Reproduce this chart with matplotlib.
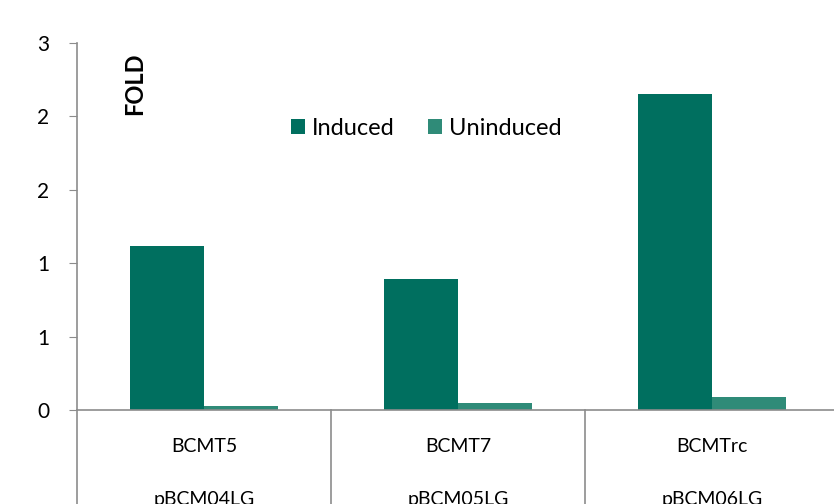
import numpy as np
from matplotlib import pyplot as plt
from matplotlib import transforms

# Fold change per construct
strains = ['BCMT5', 'BCMT7', 'BCMTrc']
plasmids = ['pBCM04LG', 'pBCM05LG', 'pBCM06LG']
induced = [1.12, 0.89, 2.15]
uninduced = [0.03, 0.045, 0.09]
ytick_vals = [0, 0.5, 1.0, 1.5, 2.0, 2.5]
ytick_text = ['0', '1', '1', '2', '2', '3']

plt.rcParams['font.family'] = ['Lato', 'DejaVu Sans']
grey = '#8c8c8c'

fig = plt.figure(figsize=(8.34, 5.04), dpi=100)
ax = fig.add_axes([0.0923, 0.1865, 0.9137, 0.7282])

x = np.arange(len(strains))
w = 0.29
ax.bar(x - w / 2, induced, w, color='#006f5f', label='Induced')
ax.bar(x + w / 2, uninduced, w, color='#2f8b78', label='Uninduced')

ax.set_xlim(-0.5, 2.5)
ax.set_ylim(0, 2.5)
ax.set_yticks(ytick_vals)
ax.set_yticklabels(ytick_text, fontsize=15)
ax.tick_params(axis='y', direction='out', length=6, color=grey, pad=14)
ax.set_xticks([])

for s in ['top', 'right']:
    ax.spines[s].set_visible(False)
ax.spines['left'].set_color(grey)
ax.spines['bottom'].set_color(grey)
ax.spines['left'].set_linewidth(1.2)
ax.spines['bottom'].set_linewidth(1.2)

# category boxes under the axis
trans = transforms.blended_transform_factory(ax.transData, ax.transAxes)
for xb in [-0.5, 0.5, 1.5]:
    ax.plot([xb, xb], [0, -0.3], transform=trans, color=grey, lw=1.2, clip_on=False)
for i in range(len(strains)):
    ax.text(x[i], -0.1, strains[i], transform=trans, ha='center', va='center', fontsize=14)
    ax.text(x[i], -0.245, plasmids[i], transform=trans, ha='center', va='center', fontsize=14)

ax.text(0.075, 0.89, 'FOLD', transform=ax.transAxes, rotation=90, fontsize=17,
        fontweight='bold', ha='center', va='center')

ax.legend(loc='center', bbox_to_anchor=(0.458, 0.768), ncol=2, frameon=False,
          fontsize=17, handlelength=0.6, handleheight=0.6, handletextpad=0.3,
          columnspacing=1.4)

fig.savefig('out.png', dpi=100)
